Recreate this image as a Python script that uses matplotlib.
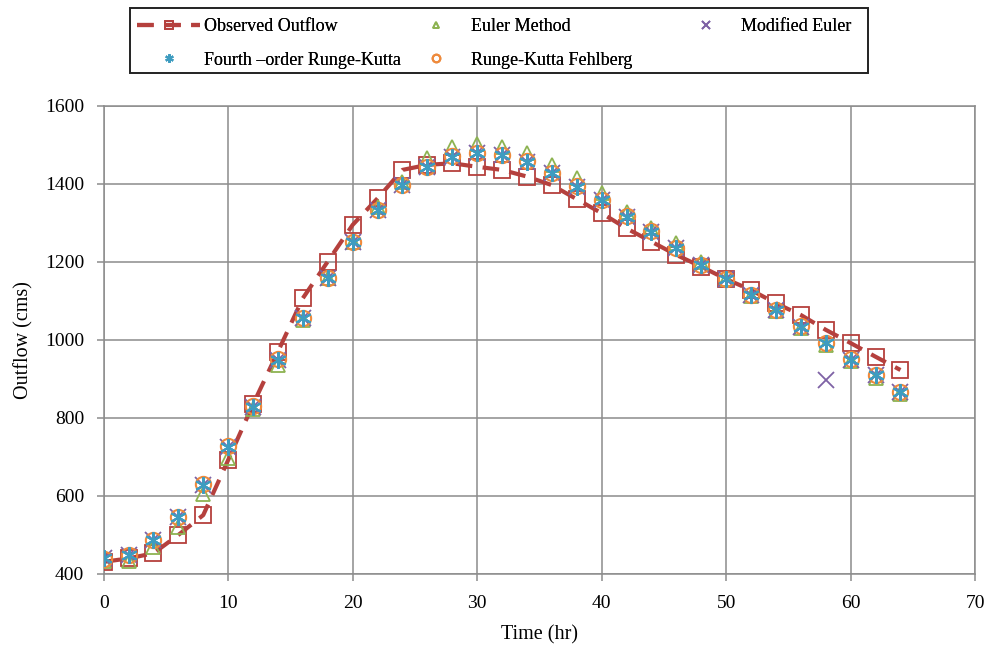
import matplotlib.pyplot as plt
from matplotlib.patches import Rectangle

plt.rcParams['font.family'] = ['Liberation Serif', 'DejaVu Serif']

time_hr = [0, 2, 4, 6, 8, 10, 12, 14, 16, 18, 20, 22, 24, 26, 28, 30, 32,
           34, 36, 38, 40, 42, 44, 46, 48, 50, 52, 54, 56, 58, 60, 62, 64]

observed = [431, 440, 453, 500, 551, 692, 835, 970, 1107, 1201, 1295, 1363,
            1436, 1449, 1453, 1444, 1436, 1419, 1397, 1361, 1325, 1286, 1252,
            1218, 1188, 1156, 1128, 1094, 1064, 1026, 992, 957, 923]

euler = [432, 432, 468, 521, 605, 697, 822, 935, 1050, 1158, 1252, 1340,
         1405, 1466, 1496, 1502, 1496, 1479, 1449, 1415, 1376, 1329, 1286,
         1248, 1200, 1156, 1113, 1075, 1030, 988, 945, 903, 862]

mod_euler = [440, 449, 488, 547, 628, 726, 829, 949, 1056, 1158, 1252, 1333,
             1397, 1444, 1470, 1479, 1474, 1457, 1427, 1393, 1359, 1316, 1278,
             1235, 1192, 1156, 1115, 1077, 1034, 897, 949, 910, 867]

rk4 = [440, 449, 488, 547, 628, 726, 829, 949, 1056, 1158, 1252, 1333,
       1397, 1444, 1470, 1479, 1474, 1457, 1427, 1393, 1359, 1316, 1278,
       1235, 1192, 1156, 1115, 1077, 1034, 992, 949, 910, 867]

rkf = [438, 448, 487, 546, 630, 727, 830, 950, 1056, 1158, 1252, 1333,
       1398, 1444, 1471, 1480, 1474, 1458, 1428, 1394, 1359, 1317, 1279,
       1236, 1193, 1156, 1116, 1078, 1035, 992, 950, 910, 867]

W, H = 987, 646
fig = plt.figure(figsize=(W / 100, H / 100), dpi=100)
ax = fig.add_axes([0.105, 0.1115, 0.883, 0.7245])

l1, = ax.plot(time_hr, observed, color='#B5403D', linestyle=(0, (4, 2.5)),
              linewidth=3, marker='s', markersize=12, markerfacecolor='none',
              markeredgecolor='#B5403D', markeredgewidth=1.3, zorder=3,
              label='Observed Outflow')
l2, = ax.plot(time_hr, euler, linestyle='none', marker='^', markersize=10,
              markerfacecolor='none', markeredgecolor='#8DB352',
              markeredgewidth=1.3, zorder=4, label='Euler Method')
l3, = ax.plot(time_hr, mod_euler, linestyle='none', marker='x', markersize=12,
              markeredgecolor='#7E62A5', markeredgewidth=1.3, zorder=5,
              label='Modified Euler')
l4, = ax.plot(time_hr, rk4, linestyle='none', marker=(6, 2, 0), markersize=12,
              markeredgecolor='#3E9CC0', markeredgewidth=1.5, zorder=7,
              label='Fourth \u2013order Runge-Kutta')
l5, = ax.plot(time_hr, rkf, linestyle='none', marker='o', markersize=11,
              markerfacecolor='none', markeredgecolor='#EE8A3C',
              markeredgewidth=1.5, zorder=6, label='Runge-Kutta Fehlberg')

ax.set_xlim(0, 70)
ax.set_ylim(400, 1600)
ax.set_xticks(range(0, 71, 10))
ax.set_yticks(range(400, 1601, 200))
ax.grid(True, color='#8C8C8C', linewidth=1.1)
ax.set_axisbelow(True)
for s in ax.spines.values():
    s.set_color('#8C8C8C')
    s.set_linewidth(1.1)
ax.tick_params(axis='both', labelsize=14, length=5, width=1.1, color='#8C8C8C')
ax.tick_params(axis='x', pad=10)
ax.tick_params(axis='y', pad=9)
ax.set_xlabel('Time (hr)', fontsize=14.5, labelpad=10)
ax.set_ylabel('Outflow (cms)', fontsize=14.5, labelpad=8)

# legend: Excel style, three equal columns inside one frame
leg_cols = [[l1, l4], [l2, l5], [l3]]
col_x = [137, 404, 674]
for handles, x0 in zip(leg_cols, col_x):
    lg = fig.legend(handles=handles, ncol=1, loc='upper left',
                    bbox_to_anchor=(x0 / W, 1 - 18 / H), fontsize=13,
                    frameon=False, markerscale=0.5, handlelength=3.5,
                    handletextpad=0.2, borderpad=0, borderaxespad=0,
                    labelspacing=0.92)
    fig.add_artist(lg)
fig.add_artist(Rectangle((130 / W, 1 - 73 / H), 738 / W, 65 / H,
                         transform=fig.transFigure, fill=False,
                         edgecolor='#222222', linewidth=1.4))

fig.savefig('out.png', dpi=100)
